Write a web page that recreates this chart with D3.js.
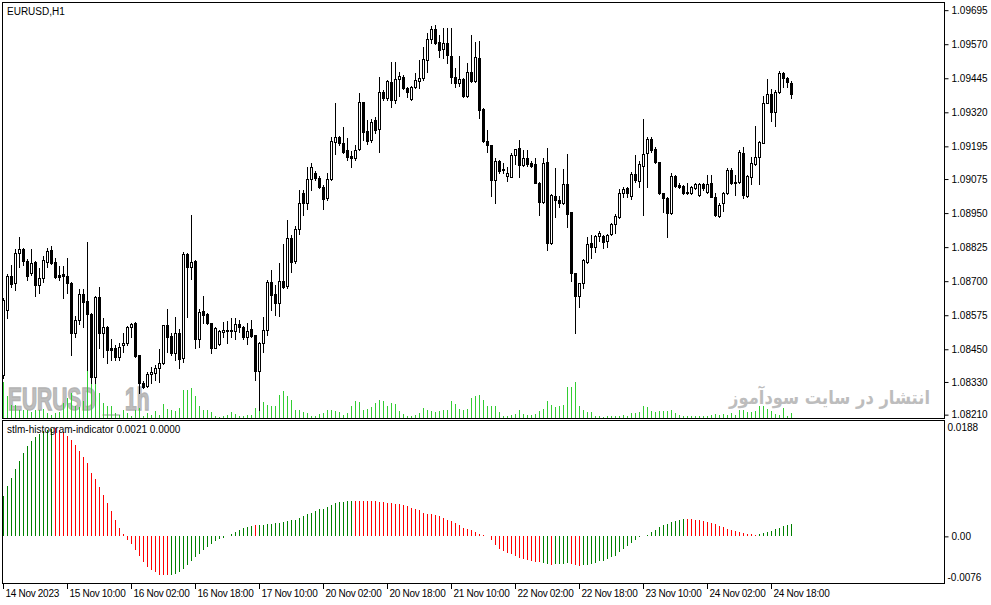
<!DOCTYPE html>
<html><head><meta charset="utf-8">
<script src="https://cdn.jsdelivr.net/npm/d3@7"></script>
<style>html,body{margin:0;padding:0;background:#fff;}svg{display:block;}</style>
</head><body>
<svg id="chart" width="991" height="605"></svg>
<script>
// ---------- DATA (prices in 1e-5 points) ----------
const symbolTitle = "EURUSD,H1";
const indicatorTitle = "stlm-histogram-indicator 0.0021 0.0000";
const opens = [108356,108594,108719,108693,108803,108818,108774,108730,108770,108686,108712,108770,108814,108770,108723,108726,108719,108693,108510,108558,
108653,108627,108580,108348,108642,108510,108532,108455,108455,108422,108466,108473,108532,108547,108429,108326,108315,108359,108363,108381,
108400,108539,108499,108436,108510,108418,108800,108752,108774,108488,108591,108580,108547,108455,108469,108514,108521,108517,108517,108543,
108532,108495,108525,108503,108370,108473,108521,108697,108653,108620,108701,108682,108858,108774,108892,109024,108987,109075,109097,109079,
109046,109005,109075,109211,109229,109207,109181,109159,109152,109185,109358,109251,109218,109292,109259,109394,109372,109431,109365,109442,
109449,109409,109369,109413,109435,109446,109512,109589,109626,109578,109552,109574,109526,109449,109427,109442,109380,109468,109435,109519,
109332,109214,109200,109071,109141,109112,109086,109082,109163,109189,109126,109152,109134,109130,109060,108991,109137,108840,109013,108998,
108987,109057,108954,108730,108646,108693,108770,108840,108825,108866,108866,108848,108873,108910,108936,109024,109042,109013,109093,109068,
109123,109170,109222,109185,109137,109024,109005,108950,109086,109053,109049,109027,109024,109042,109016,109057,109027,109060,109009,108939,
108987,109024,109108,109060,109064,109170,109013,109082,109130,109156,109207,109354,109387,109321,109394,109464,109446,109427];
const highs = [108638,108726,108759,108818,108862,108822,108781,108818,108774,108748,108792,108822,108829,108785,108756,108756,108785,108697,108572,108671,
108671,108844,108583,108646,108679,108565,108536,108488,108466,108473,108510,108536,108547,108550,108429,108334,108367,108385,108392,108451,
108539,108598,108510,108569,108525,108807,108803,108943,108778,108598,108646,108583,108547,108532,108521,108550,108554,108565,108565,108558,
108536,108547,108558,108503,108477,108569,108704,108741,108686,108767,108836,108925,108870,108903,109035,109035,109119,109134,109104,109086,
109053,109097,109229,109354,109233,109266,109225,109178,109200,109391,109358,109292,109295,109303,109449,109402,109438,109504,109504,109468,
109457,109413,109416,109464,109512,109560,109611,109637,109640,109604,109629,109629,109629,109482,109526,109446,109501,109604,109578,109582,
109336,109255,109200,109152,109145,109134,109119,109170,109185,109218,109181,109181,109141,109152,109064,109152,109189,109020,109115,109013,
109112,109167,108954,108730,108693,108781,108862,108870,108870,108884,108870,108873,108914,108947,109038,109046,109046,109101,109163,109141,
109295,109229,109229,109192,109137,109024,109009,109097,109090,109060,109053,109060,109049,109060,109060,109060,109090,109090,109024,108987,
109027,109115,109115,109090,109181,109192,109090,109156,109270,109214,109380,109442,109405,109402,109471,109468,109449,109435];
const lows = [108345,108565,108679,108668,108752,108759,108704,108723,108646,108657,108697,108752,108763,108712,108704,108638,108657,108429,108495,108543,
108532,108374,108326,108326,108455,108422,108400,108411,108411,108411,108440,108466,108495,108422,108290,108308,108312,108326,108337,108330,
108396,108440,108429,108411,108381,108403,108569,108708,108455,108458,108547,108543,108436,108455,108466,108495,108473,108495,108488,108514,
108488,108469,108495,108337,108227,108440,108503,108594,108576,108572,108675,108675,108734,108767,108873,108943,108965,109035,109071,109042,
108965,108998,109071,109167,109200,109170,109145,109119,109145,109181,109218,109203,109211,109244,109174,109365,109365,109339,109354,109380,
109405,109376,109365,109409,109409,109438,109468,109574,109570,109523,109519,109501,109427,109413,109416,109376,109376,109431,109431,109299,
109211,109174,109013,108987,109097,109097,109068,109082,109130,109082,109123,109123,109119,109060,108943,108987,108814,108836,108936,108972,
108983,108899,108701,108510,108605,108675,108767,108785,108807,108848,108822,108825,108870,108877,108932,109009,109009,109002,109064,109046,
108943,109046,109174,109134,109020,108954,108862,108947,109046,109042,109020,109020,109020,109038,109013,109035,109024,109009,108939,108936,
108958,109020,109057,109016,109060,109005,109009,109057,109126,109057,109207,109354,109288,109270,109391,109413,109413,109372];
const closes = [108631,108719,108690,108803,108818,108774,108719,108767,108686,108712,108778,108811,108767,108715,108715,108719,108693,108510,108558,108653,
108624,108580,108348,108642,108510,108532,108447,108447,108422,108458,108473,108532,108543,108425,108326,108312,108359,108367,108381,108400,
108539,108495,108436,108510,108414,108800,108752,108770,108488,108587,108576,108547,108455,108528,108517,108521,108517,108521,108543,108532,
108495,108517,108499,108370,108473,108521,108697,108649,108620,108701,108679,108858,108770,108892,108987,108987,109075,109119,109079,109046,
109002,109075,109214,109229,109207,109174,109156,109152,109181,109358,109248,109214,109284,109255,109394,109372,109435,109365,109442,109453,
109409,109394,109413,109438,109446,109515,109589,109626,109574,109548,109574,109530,109449,109427,109442,109380,109468,109435,109523,109328,
109214,109200,109071,109141,109104,109108,109097,109163,109185,109126,109152,109130,109123,109060,108991,109134,108840,109016,108998,108987,
109057,108947,108730,108646,108693,108778,108836,108825,108866,108877,108844,108870,108910,108939,109024,109038,109024,109093,109071,109130,
109167,109222,109181,109137,109024,109005,108950,109086,109049,109046,109024,109024,109046,109057,109057,109042,109057,109009,108943,108980,
109024,109108,109060,109064,109174,109016,109086,109134,109156,109211,109354,109387,109321,109394,109464,109446,109431,109387];
const tickVolumes = [3600,2200,1300,1300,800,800,800,600,800,800,900,500,300,500,600,1500,2000,2500,1200,1100,
1700,5000,4200,3500,2500,1500,1200,1200,500,300,800,500,200,800,1000,200,500,300,700,300,
1400,900,800,700,1000,2800,2800,3000,2200,1200,800,800,600,200,100,200,300,600,400,200,
200,300,300,1000,1100,1600,1300,1200,1200,2300,2700,2200,1800,800,800,600,500,200,200,400,
500,800,800,700,600,300,500,1200,1700,1600,800,900,1100,1500,1800,1700,1200,1500,1400,700,
400,200,200,300,500,1000,800,700,600,700,800,800,1700,1400,900,800,900,2000,2200,2300,
1800,1200,1200,1200,600,200,200,300,400,800,400,300,300,400,700,900,1700,1300,1100,1200,
1300,3100,3100,3600,1200,800,600,600,200,200,100,200,200,200,200,300,200,500,500,600,
1200,1100,700,600,700,700,700,800,500,300,200,200,200,200,200,200,200,300,400,300,
400,300,500,300,800,800,600,600,700,1200,1200,900,700,400,300,1000,200,500];
const stlmValues = [0.00656,0.00821,0.00946,0.01094,0.01236,0.01357,0.01466,0.01548,0.01614,0.01668,0.01712,0.01739,0.01756,0.01767,0.01729,0.01696,0.01641,0.01575,0.01482,0.01384,
0.01291,0.01192,0.01039,0.00930,0.00799,0.00673,0.00536,0.00410,0.00274,0.00142,0.00033,-0.00055,-0.00131,-0.00230,-0.00328,-0.00410,-0.00492,-0.00547,-0.00585,-0.00624,
-0.00624,-0.00629,-0.00624,-0.00613,-0.00585,-0.00531,-0.00459,-0.00394,-0.00339,-0.00284,-0.00230,-0.00175,-0.00131,-0.00077,-0.00044,-0.00022,0.00011,0.00033,0.00066,0.00098,
0.00131,0.00153,0.00175,0.00186,0.00186,0.00191,0.00197,0.00208,0.00219,0.00224,0.00235,0.00252,0.00263,0.00274,0.00306,0.00328,0.00361,0.00388,0.00416,0.00438,
0.00454,0.00481,0.00509,0.00536,0.00552,0.00558,0.00569,0.00574,0.00574,0.00580,0.00580,0.00574,0.00569,0.00569,0.00563,0.00558,0.00547,0.00536,0.00531,0.00520,
0.00503,0.00492,0.00459,0.00443,0.00427,0.00388,0.00372,0.00366,0.00356,0.00334,0.00306,0.00274,0.00252,0.00219,0.00181,0.00142,0.00126,0.00098,0.00071,0.00033,
0.00016,0.00005,-0.00066,-0.00137,-0.00202,-0.00241,-0.00274,-0.00295,-0.00328,-0.00350,-0.00372,-0.00383,-0.00405,-0.00410,-0.00421,-0.00432,-0.00443,-0.00459,-0.00454,-0.00449,
-0.00443,-0.00438,-0.00454,-0.00470,-0.00476,-0.00465,-0.00459,-0.00449,-0.00432,-0.00405,-0.00394,-0.00366,-0.00339,-0.00312,-0.00257,-0.00202,-0.00164,-0.00109,-0.00055,-0.00016,
0.00005,0.00027,0.00066,0.00109,0.00148,0.00181,0.00208,0.00230,0.00252,0.00268,0.00284,0.00284,0.00279,0.00274,0.00263,0.00252,0.00235,0.00219,0.00197,0.00175,
0.00148,0.00126,0.00109,0.00088,0.00071,0.00055,0.00044,0.00033,0.00027,0.00038,0.00055,0.00077,0.00093,0.00115,0.00142,0.00170,0.00191,0.00208];
// colour buffer of the histogram as runs: [count, direction]
const stlmTrendRuns = [[13,"up"],[29,"down"],[21,"up"],[1,"down"],[24,"up"],[47,"down"],[2,"up"],[1,"down"],[4,"up"],[3,"down"],[26,"up"],[18,"down"],[9,"up"]];
const priceTickLabels = ["1.09695","1.09570","1.09445","1.09320","1.09195","1.09075","1.08950","1.08825","1.08700","1.08575","1.08450","1.08330","1.08210"];
const indicatorTickLabels = ["0.0188","0.00","-0.0076"];
const timeTickBars = [0,16,32,48,64,80,96,112,128,144,160,176,192];
const timeTickLabels = ["14 Nov 2023","15 Nov 10:00","16 Nov 02:00","16 Nov 18:00","17 Nov 10:00","20 Nov 02:00","20 Nov 18:00","21 Nov 10:00","22 Nov 02:00","22 Nov 18:00","23 Nov 10:00","24 Nov 02:00","24 Nov 18:00"];
const watermarkSymbol = "EURUSD", watermarkSep = "_", watermarkTf = "1h";
const watermarkFa = "انتشار در سایت سودآموز";

// ---------- BUILD ----------
const P = 1e5;
const bars = opens.map((o,i)=>({i, o:o/P, h:highs[i]/P, l:lows[i]/P, c:closes[i]/P, v:tickVolumes[i], s:stlmValues[i]}));
const trend = [];
stlmTrendRuns.forEach(([n,d])=>{ for(let k=0;k<n;k++) trend.push(d); });

const svg = d3.select("#chart");
const FONT = "'Liberation Sans', Arial, sans-serif";
const mainTop = 2.5, mainBottom = 418.5, indTop = 420.5, indBottom = 583.5, left = 2.5, right = 944.5;

const x = d3.scaleLinear().domain([0, 197]).range([3.5, 791.5]);
const y = d3.scaleLinear().domain([1.08194, 1.09725]).range([419, 2]);
const yv = d3.scaleLinear().domain([0, 3600]).range([0, 36]);
const yi = d3.scaleLinear().domain([-0.0076, 0.0188]).range([583, 421]);
const snap = v => Math.round(v) + 0.5;

// watermarks (behind everything)
const wm = svg.append("g").attr("font-family", FONT);
wm.append("text").attr("transform", "translate(8,410) scale(0.675,1)")
  .attr("font-size", 31).attr("font-weight", "bold").attr("fill", "#bebebe")
  .attr("stroke", "#b4b4b4").attr("stroke-width", 1.4).text(watermarkSymbol);
wm.append("text").attr("transform", "translate(103,410) scale(1.0,1)")
  .attr("font-size", 30).attr("fill", "#c8c8c8").text(watermarkSep);
wm.append("text").attr("transform", "translate(125,410) scale(0.675,1)")
  .attr("font-size", 31).attr("font-weight", "bold").attr("fill", "#bebebe")
  .attr("stroke", "#b4b4b4").attr("stroke-width", 1.4).text(watermarkTf);
svg.append("text").attr("transform", "translate(930,404) scale(0.86,1)").attr("text-anchor", "end")
  .attr("font-family", "'DejaVu Sans', sans-serif").attr("font-weight", "bold").attr("font-size", 19)
  .attr("fill", "#bdbdbd").text(watermarkFa);

// volumes
svg.append("g").selectAll("line").data(bars).join("line")
  .attr("x1", d=>x(d.i)).attr("x2", d=>x(d.i))
  .attr("y1", 418).attr("y2", d=>418 - Math.max(1, Math.round(yv(d.v))))
  .attr("stroke", "#32CD32").attr("stroke-width", 1);

// candles
const cg = svg.append("g").attr("shape-rendering", "crispEdges");
cg.selectAll("line").data(bars).join("line")
  .attr("x1", d=>x(d.i)).attr("x2", d=>x(d.i))
  .attr("y1", d=>Math.round(y(d.h))).attr("y2", d=>Math.round(y(d.l)) + 1)
  .attr("stroke", "#000");
cg.selectAll("rect").data(bars).join("rect")
  .attr("x", d=>x(d.i) - 1).attr("width", 2)
  .attr("y", d=>snap(y(Math.max(d.o, d.c))))
  .attr("height", d=>Math.max(0, Math.round(y(Math.min(d.o, d.c))) - Math.round(y(Math.max(d.o, d.c)))))
  .attr("fill", d=>d.c >= d.o ? "#fff" : "#000").attr("stroke", "#000");

// indicator histogram
svg.append("g").attr("shape-rendering", "crispEdges").selectAll("line").data(bars).join("line")
  .attr("x1", d=>x(d.i)).attr("x2", d=>x(d.i))
  .attr("y1", Math.round(yi(0))).attr("y2", d=>Math.round(yi(d.s)))
  .attr("stroke", d=>trend[d.i] === "up" ? "#008000" : "#ff0000");

// panel frames
const fr = svg.append("g").attr("fill", "none").attr("stroke", "#000").attr("shape-rendering", "crispEdges");
fr.append("rect").attr("x", left).attr("y", mainTop).attr("width", right - left).attr("height", mainBottom - mainTop);
fr.append("rect").attr("x", left).attr("y", indTop).attr("width", right - left).attr("height", indBottom - indTop);

// price axis
const pa = svg.append("g").attr("transform", `translate(${right},0)`)
  .call(d3.axisRight(y).tickValues(priceTickLabels.map(Number)).tickFormat((d,i)=>priceTickLabels[i]).tickSize(4).tickPadding(3));
pa.select(".domain").remove();
pa.selectAll("text").attr("font-family", FONT).attr("font-size", 10).attr("fill", "#000");

// indicator axis
const ia = svg.append("g").attr("transform", `translate(${right},0)`)
  .call(d3.axisRight(yi).tickValues(indicatorTickLabels.map(Number)).tickFormat((d,i)=>indicatorTickLabels[i]).tickSize(4).tickPadding(3));
ia.select(".domain").remove();
ia.selectAll("text").attr("font-family", FONT).attr("font-size", 10).attr("fill", "#000");
ia.selectAll(".tick").filter((d,i)=>i!==1).select("line").remove();
ia.selectAll(".tick").filter((d,i)=>i===0).select("text").attr("x", 3).attr("transform", "translate(0,6)");
ia.selectAll(".tick").filter((d,i)=>i===2).select("text").attr("x", 3).attr("transform", "translate(0,-6)");

// time axis
const ta = svg.append("g").attr("font-family", FONT).attr("font-size", 10).attr("letter-spacing", "-0.3px");
ta.selectAll("line").data(timeTickBars).join("line")
  .attr("x1", d=>x(d)).attr("x2", d=>x(d)).attr("y1", 584).attr("y2", 589)
  .attr("stroke", "#000").attr("shape-rendering", "crispEdges");
ta.selectAll("text").data(timeTickBars).join("text")
  .attr("x", d=>x(d) + 2).attr("y", 597).text((d,i)=>timeTickLabels[i]);

// titles
svg.append("text").attr("x", 7).attr("y", 15).attr("font-family", FONT).attr("font-size", 10).text(symbolTitle);
svg.append("text").attr("x", 7).attr("y", 433).attr("font-family", FONT).attr("font-size", 10).text(indicatorTitle);
</script>
</body></html>
